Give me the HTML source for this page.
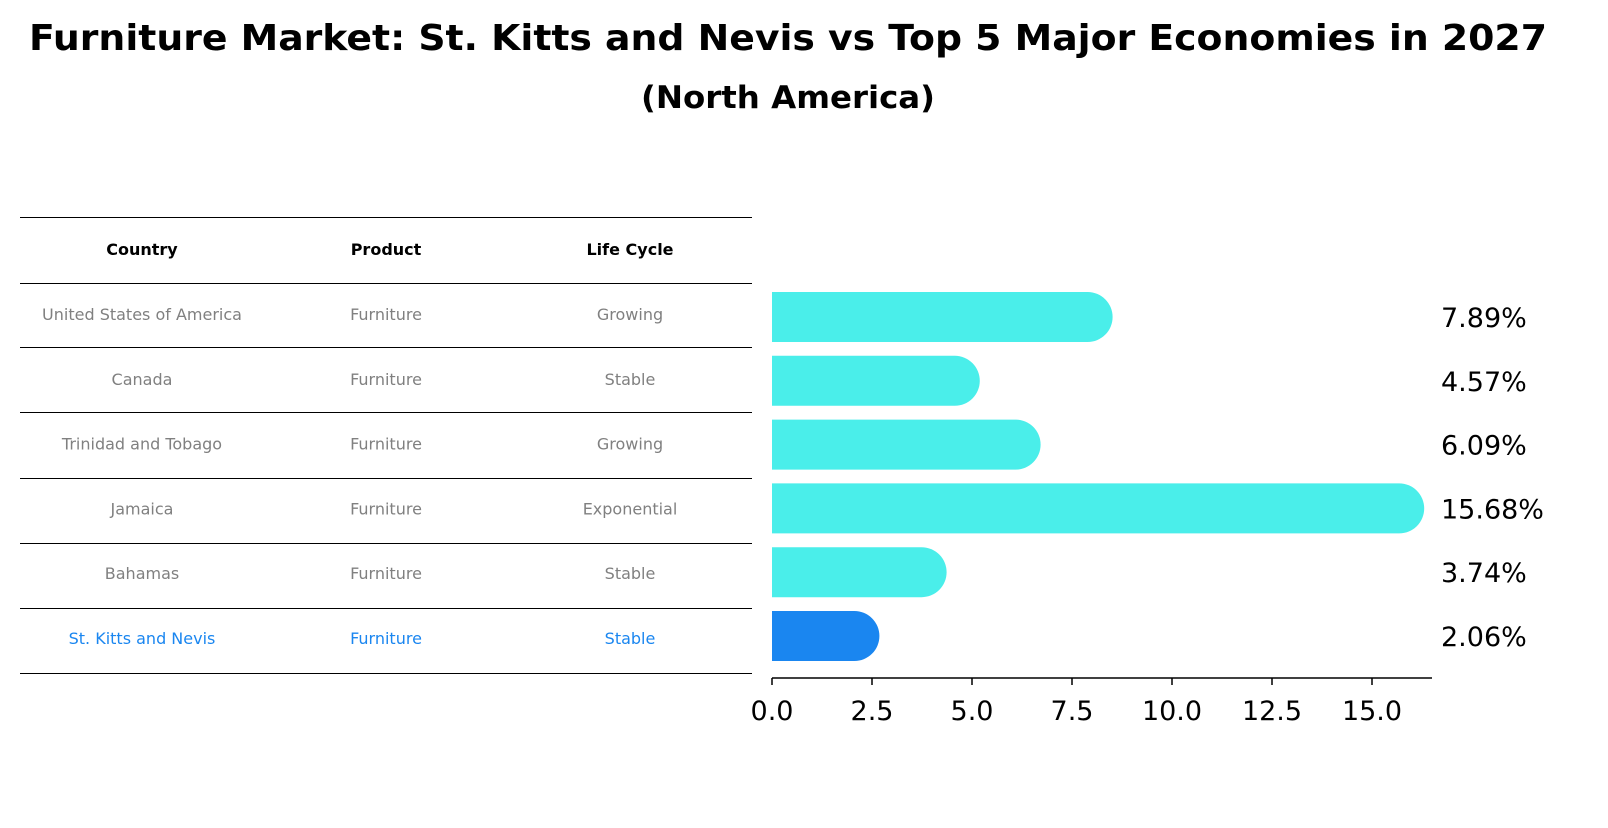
<!DOCTYPE html>
<html><head><meta charset="utf-8"><style>
body{margin:0;background:#fff;font-family:"Liberation Sans","DejaVu Sans",sans-serif;}
svg text{font-family:"DejaVu Sans","Liberation Sans",sans-serif;}
</style></head><body>
<svg id="c" width="1608" height="823" xmlns="http://www.w3.org/2000/svg">
<text x="788" y="50" text-anchor="middle" font-size="36" font-weight="bold" textLength="1518" lengthAdjust="spacingAndGlyphs">Furniture Market: St. Kitts and Nevis vs Top 5 Major Economies in 2027</text>
<text x="788" y="108" text-anchor="middle" font-size="31" font-weight="bold" textLength="294" lengthAdjust="spacingAndGlyphs">(North America)</text>
<g id="tbl"></g>
<g id="bars"></g>
<g id="axis"></g>
</svg>
<script>
const countries=["United States of America","Canada","Trinidad and Tobago","Jamaica","Bahamas","St. Kitts and Nevis"];
const products=["Furniture","Furniture","Furniture","Furniture","Furniture","Furniture"];
const lifecycles=["Growing","Stable","Growing","Exponential","Stable","Stable"];
const values=[7.89,4.57,6.09,15.68,3.74,2.06];
const ticks=[0,2.5,5,7.5,10,12.5,15];
const NS="http://www.w3.org/2000/svg";
function mk(t,a,p){const e=document.createElementNS(NS,t);for(const k in a)e.setAttribute(k,a[k]);p.appendChild(e);return e;}
const x=v=>772+v*40;
const rowY=i=>315+i*64.8;
const tbl=document.getElementById('tbl');
const lines=[217.5,283.5,347.5,412.5,478.5,543.5,608.5,673.5];
lines.forEach((y,i)=>{const l=mk('line',{x1:20,x2:752,y1:y,y2:y,stroke:'#000','stroke-width':1},tbl);

});
const cx=[142,386,630];
["Country","Product","Life Cycle"].forEach((h,j)=>{const t=mk('text',{x:cx[j],y:255,'text-anchor':'middle','font-size':16,'font-weight':'bold'},tbl);t.textContent=h;

});
countries.forEach((c,i)=>{const col=i===5?'#1a86f0':'#808080';
[c,products[i],lifecycles[i]].forEach((v,j)=>{const t=mk('text',{x:cx[j],y:rowY(i)+5,'text-anchor':'middle','font-size':16,fill:col},tbl);t.textContent=v;

});});
const bars=document.getElementById('bars');
const by=i=>317+i*63.8;
values.forEach((v,i)=>{const col=i===5?'#1a86f0':'#4aeeea';const h=50,r=25;const y0=by(i)-h/2;const xe=x(v);
const p=mk('path',{d:`M772 ${y0} H${xe} A${r} ${r} 0 0 1 ${xe} ${y0+h} H772 Z`,fill:col},bars);


const t=mk('text',{x:1441,y:by(i)+10,'font-size':27},bars);t.textContent=v.toFixed(2)+'%';

});
const ax=document.getElementById('axis');
mk('line',{x1:772,x2:1432,y1:678,y2:678,stroke:'#000','stroke-width':1.5},ax);
ticks.forEach(v=>{mk('line',{x1:x(v),x2:x(v),y1:678,y2:685,stroke:'#000','stroke-width':1.5},ax);
const t=mk('text',{x:x(v),y:720,'text-anchor':'middle','font-size':27},ax);t.textContent=v.toFixed(1);

});
</script>
</body></html>
